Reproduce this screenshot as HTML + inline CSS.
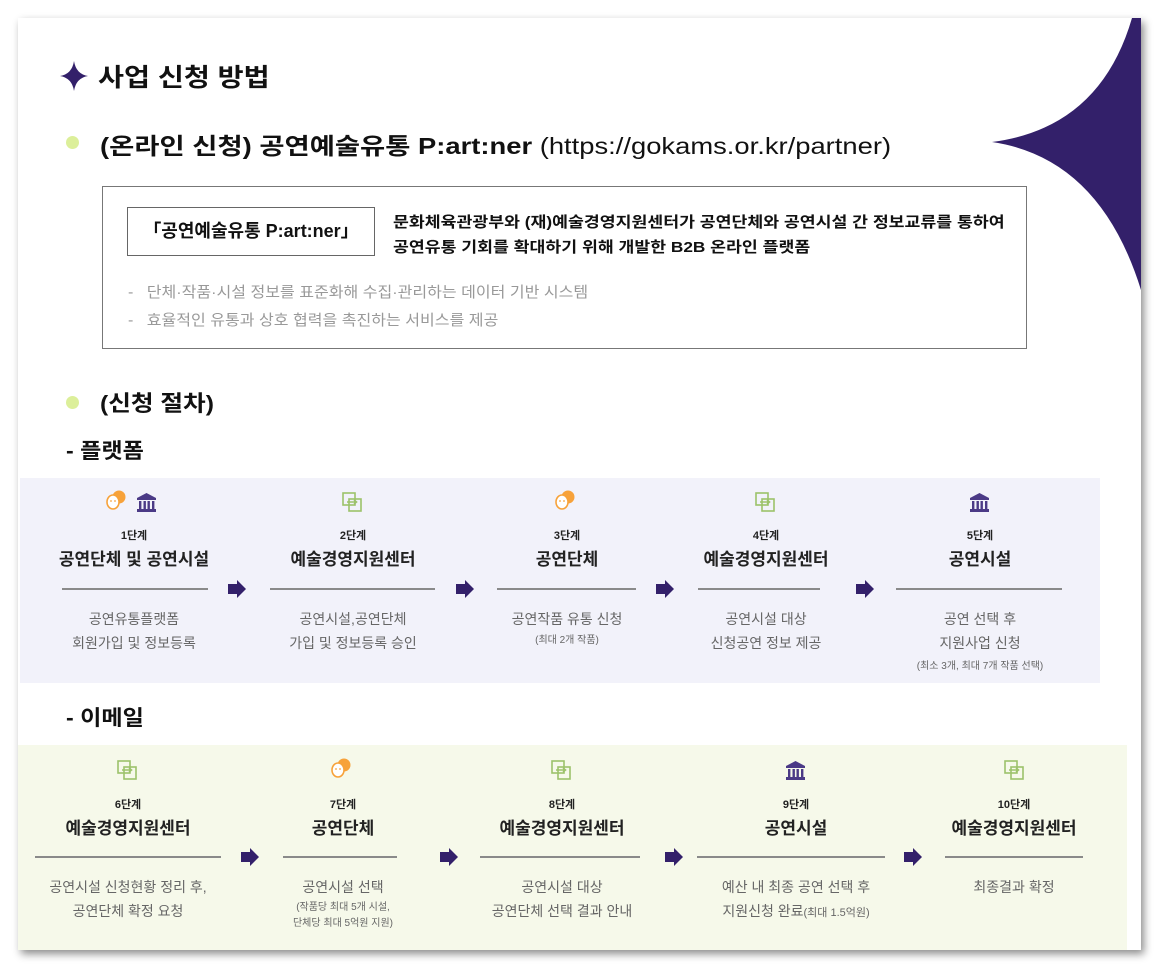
<!DOCTYPE html>
<html><head><meta charset="utf-8"><style>
*{margin:0;padding:0;box-sizing:border-box}
body{width:1159px;height:967px;position:relative;background:#fff;font-family:"Liberation Sans","Noto Sans CJK KR",sans-serif;overflow:hidden;color:#111}
.a{position:absolute;white-space:nowrap}
.sx{transform-origin:left top}
.panel{position:absolute;left:18px;top:18px;width:1123px;height:932px;background:#fff;box-shadow:3px 4px 8px rgba(0,0,0,.45)}
.c{position:absolute;transform:translateX(-50%);text-align:center;white-space:nowrap}
.st{font-size:11px;font-weight:bold;color:#222}
.tt{font-size:17px;font-weight:bold;color:#222}
.ds{font-size:14px;color:#666;line-height:24px}
.sm{font-size:10px;color:#666}
.ln{position:absolute;height:2px;background:#8a8a8a}
</style></head><body>
<div class="panel"></div>
<svg class="a" style="left:990px;top:18px" width="152" height="275" viewBox="0 0 152 275"><path d="M142 0 Q110 110 2 124 Q110 140 151 272 L151 0 Z" fill="#33206a"/></svg>

<svg class="a" style="left:60px;top:61px" width="28" height="30" viewBox="0 0 28 30"><path d="M14 0 Q16 13 28 15 Q16 17 14 30 Q12 17 0 15 Q12 13 14 0Z" fill="#33206a"/></svg>
<div class="a sx" style="left:98px;top:58px;font-size:25px;font-weight:bold;transform:scaleX(1.13)">사업 신청 방법</div>
<div class="a" style="left:66px;top:136px;width:13px;height:13px;border-radius:50%;background:#dcef9a"></div>
<div class="a sx" style="left:100px;top:127px;font-size:23px;transform:scaleX(1.19)"><b>(온라인 신청) 공연예술유통 P:art:ner</b> (https://gokams.or.kr/partner)</div>

<div class="a" style="left:102px;top:186px;width:925px;height:163px;border:1px solid #777"></div>
<div class="a" style="left:127px;top:207px;width:248px;height:49px;border:1px solid #666;font-size:18px;font-weight:bold;text-align:center;line-height:47px">「공연예술유통 P:art:ner」</div>
<div class="a sx" style="left:393px;top:210px;font-size:15px;font-weight:bold;line-height:25px;transform:scaleX(1.15)">문화체육관광부와 (재)예술경영지원센터가 공연단체와 공연시설 간 정보교류를 통하여<br>공연유통 기회를 확대하기 위해 개발한 B2B 온라인 플랫폼</div>
<div class="a sx" style="left:128px;top:279px;font-size:15px;color:#999;line-height:28px;transform:scaleX(1.07)">-&nbsp;&nbsp; 단체·작품·시설 정보를 표준화해 수집·관리하는 데이터 기반 시스템<br>-&nbsp;&nbsp; 효율적인 유통과 상호 협력을 촉진하는 서비스를 제공</div>

<div class="a" style="left:66px;top:396px;width:13px;height:13px;border-radius:50%;background:#dcef9a"></div>
<div class="a sx" style="left:100px;top:386px;font-size:22px;font-weight:bold;transform:scaleX(1.12)">(신청 절차)</div>
<div class="a sx" style="left:66px;top:435px;font-size:21px;font-weight:bold;transform:scaleX(1.1)">- 플랫폼</div>
<div class="a sx" style="left:66px;top:702px;font-size:21px;font-weight:bold;transform:scaleX(1.1)">- 이메일</div>

<div class="a" style="left:20px;top:478px;width:1080px;height:205px;background:#f2f2fa"></div>
<div class="a" style="left:18px;top:745px;width:1109px;height:205px;background:#f6f9ea"></div>

<svg width="0" height="0" style="position:absolute"><defs>
<g id="mask"><circle cx="13" cy="7" r="6.5" fill="#f7a23a"/><ellipse cx="7" cy="12" rx="6" ry="7" fill="#fff" stroke="#f7a23a" stroke-width="1.6"/><circle cx="5" cy="11" r=".9" fill="#f7a23a"/><circle cx="9" cy="11" r=".9" fill="#f7a23a"/></g>
<g id="bank" fill="#4b3a86"><path d="M1 6 L10.5 1 L20 6Z"/><rect x="1" y="6" width="19" height="2"/><rect x="3" y="9" width="2.4" height="8"/><rect x="7.5" y="9" width="2.4" height="8"/><rect x="11.5" y="9" width="2.4" height="8"/><rect x="16" y="9" width="2.4" height="8"/><rect x="1" y="17" width="19" height="3"/></g>
<g id="ex" fill="none" stroke="#9cc26a" stroke-width="1.6"><rect x="1" y="1" width="12" height="12"/><rect x="7" y="7" width="12" height="12"/><path d="M5 10h9M12 8l2.5 2-2.5 2"/></g>
<g id="arr"><path d="M0 4h9V0l9 9-9 9v-4H0z" fill="#33206a"/></g>
</defs></svg>

<!-- platform -->
<svg class="a" style="left:106px;top:490px" width="24" height="24"><use href="#mask"/></svg>
<svg class="a" style="left:136px;top:492px" width="22" height="22"><use href="#bank"/></svg>
<svg class="a" style="left:342px;top:492px" width="21" height="21"><use href="#ex"/></svg>
<svg class="a" style="left:555px;top:490px" width="24" height="24"><use href="#mask"/></svg>
<svg class="a" style="left:755px;top:492px" width="21" height="21"><use href="#ex"/></svg>
<svg class="a" style="left:969px;top:492px" width="22" height="22"><use href="#bank"/></svg>

<div class="c st" style="left:134px;top:527px">1단계</div><div class="c tt" style="left:134px;top:545px">공연단체 및 공연시설</div>
<div class="c st" style="left:353px;top:527px">2단계</div><div class="c tt" style="left:353px;top:545px">예술경영지원센터</div>
<div class="c st" style="left:567px;top:527px">3단계</div><div class="c tt" style="left:567px;top:545px">공연단체</div>
<div class="c st" style="left:766px;top:527px">4단계</div><div class="c tt" style="left:766px;top:545px">예술경영지원센터</div>
<div class="c st" style="left:980px;top:527px">5단계</div><div class="c tt" style="left:980px;top:545px">공연시설</div>

<div class="ln" style="left:62px;top:588px;width:146px"></div>
<div class="ln" style="left:270px;top:588px;width:165px"></div>
<div class="ln" style="left:497px;top:588px;width:139px"></div>
<div class="ln" style="left:698px;top:588px;width:122px"></div>
<div class="ln" style="left:896px;top:588px;width:166px"></div>
<svg class="a" style="left:228px;top:580px" width="20" height="20"><use href="#arr"/></svg>
<svg class="a" style="left:456px;top:580px" width="20" height="20"><use href="#arr"/></svg>
<svg class="a" style="left:656px;top:580px" width="20" height="20"><use href="#arr"/></svg>
<svg class="a" style="left:856px;top:580px" width="20" height="20"><use href="#arr"/></svg>

<div class="c ds" style="left:134px;top:607px">공연유통플랫폼<br>회원가입 및 정보등록</div>
<div class="c ds" style="left:353px;top:607px">공연시설,공연단체<br>가입 및 정보등록 승인</div>
<div class="c ds" style="left:567px;top:607px">공연작품 유통 신청</div><div class="c sm" style="left:567px;top:631px">(최대 2개 작품)</div>
<div class="c ds" style="left:766px;top:607px">공연시설 대상<br>신청공연 정보 제공</div>
<div class="c ds" style="left:980px;top:607px">공연 선택 후<br>지원사업 신청</div><div class="c sm" style="left:980px;top:657px">(최소 3개, 최대 7개 작품 선택)</div>

<!-- email -->
<svg class="a" style="left:117px;top:760px" width="21" height="21"><use href="#ex"/></svg>
<svg class="a" style="left:331px;top:758px" width="24" height="24"><use href="#mask"/></svg>
<svg class="a" style="left:551px;top:760px" width="21" height="21"><use href="#ex"/></svg>
<svg class="a" style="left:785px;top:760px" width="22" height="22"><use href="#bank"/></svg>
<svg class="a" style="left:1004px;top:760px" width="21" height="21"><use href="#ex"/></svg>

<div class="c st" style="left:128px;top:796px">6단계</div><div class="c tt" style="left:128px;top:814px">예술경영지원센터</div>
<div class="c st" style="left:343px;top:796px">7단계</div><div class="c tt" style="left:343px;top:814px">공연단체</div>
<div class="c st" style="left:562px;top:796px">8단계</div><div class="c tt" style="left:562px;top:814px">예술경영지원센터</div>
<div class="c st" style="left:796px;top:796px">9단계</div><div class="c tt" style="left:796px;top:814px">공연시설</div>
<div class="c st" style="left:1014px;top:796px">10단계</div><div class="c tt" style="left:1014px;top:814px">예술경영지원센터</div>

<div class="ln" style="left:35px;top:856px;width:186px"></div>
<div class="ln" style="left:283px;top:856px;width:114px"></div>
<div class="ln" style="left:480px;top:856px;width:160px"></div>
<div class="ln" style="left:697px;top:856px;width:188px"></div>
<div class="ln" style="left:945px;top:856px;width:138px"></div>
<svg class="a" style="left:241px;top:848px" width="20" height="20"><use href="#arr"/></svg>
<svg class="a" style="left:440px;top:848px" width="20" height="20"><use href="#arr"/></svg>
<svg class="a" style="left:665px;top:848px" width="20" height="20"><use href="#arr"/></svg>
<svg class="a" style="left:904px;top:848px" width="20" height="20"><use href="#arr"/></svg>

<div class="c ds" style="left:128px;top:875px">공연시설 신청현황 정리 후,<br>공연단체 확정 요청</div>
<div class="c ds" style="left:343px;top:875px">공연시설 선택</div><div class="c sm" style="left:343px;top:900px;line-height:16px">(작품당 최대 5개 시설,<br>단체당 최대 5억원 지원)</div>
<div class="c ds" style="left:562px;top:875px">공연시설 대상<br>공연단체 선택 결과 안내</div>
<div class="c ds" style="left:796px;top:875px">예산 내 최종 공연 선택 후<br>지원신청 완료<span style="font-size:11px">(최대 1.5억원)</span></div>
<div class="c ds" style="left:1014px;top:875px">최종결과 확정</div>
</body></html>
